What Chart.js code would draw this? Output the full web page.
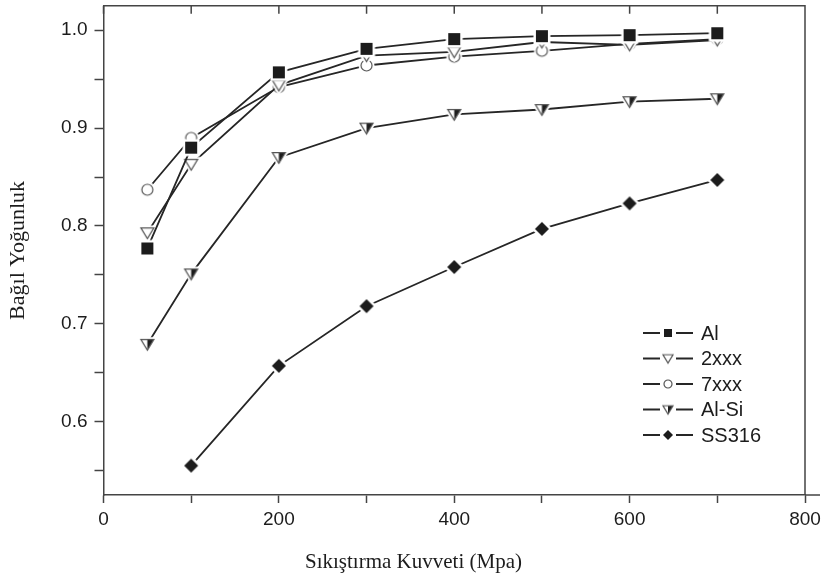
<!DOCTYPE html>
<html>
<head>
<meta charset="utf-8">
<title>Bağıl Yoğunluk</title>
<script src="https://cdn.jsdelivr.net/npm/chart.js@4.4.0/dist/chart.umd.min.js"></script>
<style>
  html, body { margin: 0; padding: 0; background: #fff; }
  #wrap { width: 827px; height: 579px; }
</style>
</head>
<body>
<div id="wrap"><canvas id="densityChart" width="827" height="579"></canvas></div>
<script>
// pressure (MPa) and relative density per material
const pressure = [50, 100, 200, 300, 400, 500, 600, 700];
const alValues = [0.777, 0.880, 0.957, 0.981, 0.991, 0.994, 0.995, 0.997];
const al2xxxValues = [0.793, 0.863, 0.944, 0.974, 0.978, 0.988, 0.985, 0.990];
const al7xxxValues = [0.837, 0.890, 0.942, 0.964, 0.973, 0.979, 0.986, 0.991];
const alSiValues = [0.679, 0.751, 0.870, 0.900, 0.914, 0.919, 0.927, 0.930];
const ss316Values = [null, 0.555, 0.657, 0.718, 0.758, 0.797, 0.823, 0.847];
const seriesNames = ['Al', '2xxx', '7xxx', 'Al-Si', 'SS316'];

const xTickValues = [0, 100, 200, 300, 400, 500, 600, 700, 800];
const yTickValues = [0.55, 0.6, 0.65, 0.7, 0.75, 0.8, 0.85, 0.9, 0.95, 1.0];

const ink = '#1c1c1c';
const lineInk = '#262626';
const sans = '"Liberation Sans", Arial, Helvetica, sans-serif';
const serif = '"Liberation Serif", "Times New Roman", serif';

function makeMarker(kind, size, halo) {
    const pad = halo ? 4 : 2;
    const dim = Math.ceil(size + pad * 2);
    const c = document.createElement('canvas');
    c.width = dim;
    c.height = dim;
    const g = c.getContext('2d');
    g.translate(dim / 2, dim / 2);
    const r = size / 2;

    function path() {
        g.beginPath();
        if (kind === 'square') {
            g.rect(-r, -r, size, size);
        } else if (kind === 'circle') {
            g.arc(0, 0, r, 0, Math.PI * 2);
        } else if (kind === 'diamond') {
            g.moveTo(0, -r); g.lineTo(r, 0); g.lineTo(0, r); g.lineTo(-r, 0);
            g.closePath();
        } else {
            g.moveTo(-r, -r * 0.75); g.lineTo(r, -r * 0.75); g.lineTo(0, r * 0.9);
            g.closePath();
        }
    }

    if (halo) {
        path();
        g.lineWidth = 5;
        g.strokeStyle = '#fff';
        g.stroke();
    }
    path();
    if (kind === 'square' || kind === 'diamond') {
        g.fillStyle = ink;
        g.fill();
    } else {
        g.fillStyle = '#fff';
        g.fill();
        if (kind === 'halfTriangle') {
            g.beginPath();
            g.moveTo(0, -r * 0.75); g.lineTo(r, -r * 0.75); g.lineTo(0, r * 0.9);
            g.closePath();
            g.fillStyle = ink;
            g.fill();
        }
        path();
        g.lineWidth = 1.2;
        g.strokeStyle = '#555';
        g.stroke();
    }
    return c;
}

const markerKinds = ['square', 'triangle', 'circle', 'halfTriangle', 'diamond'];
const markerSizes = [12, 13, 11, 13, 14];
const legendSizes = [8, 10, 8, 10, 10];
const plotMarkers = markerKinds.map((k, i) => makeMarker(k, markerSizes[i], true));
const legendMarkers = markerKinds.map((k, i) => makeMarker(k, legendSizes[i], false));

const seriesValues = [alValues, al2xxxValues, al7xxxValues, alSiValues, ss316Values];

function toPoints(values) {
    return pressure.map((p, i) => ({ x: p, y: values[i] })).filter(pt => pt.y !== null);
}

// box lines on top/right, inward ticks on the top edge
const framePlugin = {
    id: 'frame',
    afterDraw(chart) {
        const { ctx, chartArea, scales } = chart;
        ctx.save();
        ctx.strokeStyle = '#444';
        ctx.lineWidth = 1.5;
        ctx.beginPath();
        ctx.moveTo(chartArea.left, chartArea.top);
        ctx.lineTo(chartArea.right, chartArea.top);
        ctx.lineTo(chartArea.right, chartArea.bottom);
        ctx.moveTo(chartArea.right, chartArea.bottom);
        ctx.lineTo(chartArea.right + 15, chartArea.bottom);
        xTickValues.forEach(v => {
            const px = scales.x.getPixelForValue(v);
            ctx.moveTo(px, chartArea.top);
            ctx.lineTo(px, chartArea.top + 8);
        });
        ctx.stroke();
        ctx.restore();
    }
};

// legend inside plot, line + marker + label
const legendPlugin = {
    id: 'innerLegend',
    afterDraw(chart) {
        const { ctx, chartArea } = chart;
        const x0 = chartArea.right - 162;
        const y0 = chartArea.bottom - 162;
        ctx.save();
        ctx.font = '20px ' + sans;
        ctx.textBaseline = 'middle';
        ctx.fillStyle = ink;
        seriesNames.forEach((name, i) => {
            const y = y0 + i * 25.5;
            ctx.strokeStyle = lineInk;
            ctx.lineWidth = 1.8;
            ctx.beginPath();
            ctx.moveTo(x0, y);
            ctx.lineTo(x0 + 17, y);
            ctx.moveTo(x0 + 33, y);
            ctx.lineTo(x0 + 50, y);
            ctx.stroke();
            const m = legendMarkers[i];
            ctx.drawImage(m, x0 + 25 - m.width / 2, y - m.height / 2);
            ctx.fillText(name, x0 + 58, y + 1);
        });
        ctx.restore();
    }
};

const ctx = document.getElementById('densityChart').getContext('2d');

const chart = new Chart(ctx, {
    type: 'line',
    data: {
        datasets: seriesNames.map((name, i) => ({
            label: name,
            data: toPoints(seriesValues[i]),
            borderColor: lineInk,
            borderWidth: 1.8,
            pointStyle: plotMarkers[i],
            tension: 0,
            fill: false
        }))
    },
    options: {
        responsive: false,
        animation: false,
        devicePixelRatio: 1,
        layout: {
            padding: { top: 5, right: 0, left: 0, bottom: 0 }
        },
        plugins: {
            legend: { display: false },
            tooltip: { enabled: false },
            title: {
                display: true,
                position: 'bottom',
                text: 'Sıkıştırma Kuvveti (Mpa)',
                color: ink,
                font: { family: serif, size: 21, weight: 'normal' },
                padding: { top: 0, bottom: 4 }
            }
        },
        scales: {
            x: {
                type: 'linear',
                min: 0,
                max: 800,
                afterBuildTicks(scale) {
                    scale.ticks = xTickValues.map(v => ({ value: v }));
                },
                afterFit(scale) {
                    scale.height = 54.8;
                    scale.paddingLeft = 0;
                    scale.paddingRight = 22;
                },
                ticks: {
                    autoSkip: false,
                    maxRotation: 0,
                    padding: 5,
                    color: ink,
                    font: { family: sans, size: 19 },
                    callback: v => (v % 200 === 0 ? String(v) : '')
                },
                grid: {
                    drawOnChartArea: false,
                    drawTicks: true,
                    tickLength: 8,
                    tickColor: '#444',
                    tickWidth: 1.5
                },
                border: { display: true, color: '#444', width: 1.5 }
            },
            y: {
                min: 0.525,
                max: 1.025,
                afterBuildTicks(scale) {
                    scale.ticks = yTickValues.map(v => ({ value: v }));
                },
                afterFit(scale) {
                    scale.width = 103.5;
                    scale.paddingTop = 0;
                    scale.paddingBottom = 0;
                },
                title: {
                    display: true,
                    text: 'Bağıl Yoğunluk',
                    color: ink,
                    font: { family: serif, size: 22, weight: 'normal' },
                    padding: { top: 5, bottom: 0 }
                },
                ticks: {
                    autoSkip: false,
                    padding: 7,
                    color: ink,
                    font: { family: sans, size: 19 },
                    callback: v => (Math.round(v * 100) % 10 === 0 ? v.toFixed(1) : '')
                },
                grid: {
                    drawOnChartArea: false,
                    drawTicks: true,
                    tickLength: 9,
                    tickColor: '#444',
                    tickWidth: 1.5
                },
                border: { display: true, color: '#444', width: 1.5 }
            }
        }
    },
    plugins: [framePlugin, legendPlugin]
});
</script>
</body>
</html>
